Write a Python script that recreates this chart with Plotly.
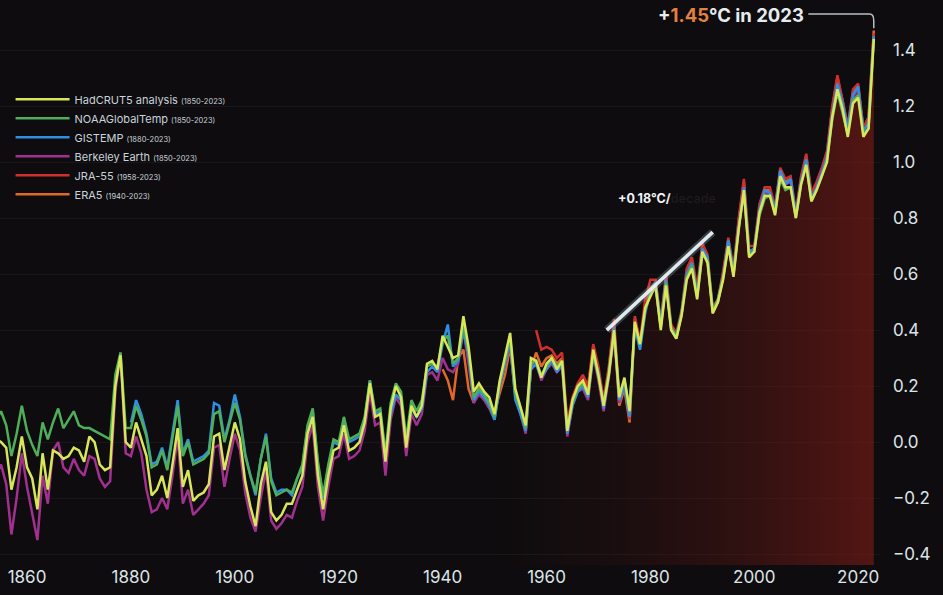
import plotly.graph_objects as go

# ---------------- data ----------------
years_hc = list(range(1850, 2024))
hadcrut5 = [
    -0.12, 0.07, 0.07, 0.03, 0.01, 0.00, -0.02, -0.17, -0.09, 0.02,
    -0.09, -0.13, -0.24, -0.04, -0.17, -0.03, -0.04, -0.06, -0.05, -0.02,
    -0.03, -0.07, 0.02, 0.00, -0.08, -0.10, -0.09, 0.20, 0.31, 0.00,
    -0.02, 0.07, 0.01, -0.05, -0.19, -0.17, -0.12, -0.20, -0.08, 0.05,
    -0.16, -0.10, -0.21, -0.19, -0.18, -0.15, 0.02, 0.03, -0.10, -0.01,
    0.07, 0.01, -0.14, -0.23, -0.30, -0.15, -0.07, -0.25, -0.28, -0.26,
    -0.22, -0.22, -0.17, -0.12, 0.03, 0.09, -0.12, -0.24, -0.12, -0.03,
    -0.02, 0.06, -0.03, -0.02, 0.00, 0.07, 0.21, 0.09, 0.10, -0.07,
    0.12, 0.20, 0.16, -0.02, 0.13, 0.09, 0.13, 0.28, 0.29, 0.26,
    0.38, 0.34, 0.30, 0.31, 0.45, 0.34, 0.18, 0.21, 0.18, 0.16,
    0.10, 0.22, 0.30, 0.39, 0.19, 0.12, 0.06, 0.30, 0.29, 0.23,
    0.28, 0.30, 0.26, 0.29, 0.04, 0.15, 0.20, 0.22, 0.17, 0.33,
    0.24, 0.13, 0.24, 0.40, 0.16, 0.23, 0.11, 0.43, 0.35, 0.48,
    0.52, 0.56, 0.40, 0.56, 0.40, 0.37, 0.45, 0.58, 0.62, 0.51,
    0.68, 0.64, 0.46, 0.50, 0.58, 0.70, 0.59, 0.76, 0.90, 0.66,
    0.68, 0.82, 0.88, 0.88, 0.81, 0.95, 0.91, 0.91, 0.80, 0.92,
    0.99, 0.86, 0.90, 0.95, 1.00, 1.16, 1.26, 1.19, 1.09, 1.21,
    1.23, 1.09, 1.12, 1.44,
]

years_noaa = list(range(1850, 2024))
noaa = [
    0.02, 0.14, 0.12, 0.10, 0.08, 0.11, 0.06, -0.05, 0.03, 0.13,
    0.04, -0.01, -0.05, 0.07, 0.01, 0.07, 0.12, 0.05, 0.08, 0.11,
    0.06, 0.05, 0.05, 0.04, 0.03, 0.02, 0.01, 0.24, 0.32, 0.05,
    0.05, 0.13, 0.08, 0.02, -0.09, -0.08, -0.03, -0.10, 0.02, 0.13,
    -0.05, 0.00, -0.08, -0.07, -0.06, -0.04, 0.10, 0.11, 0.00, 0.07,
    0.14, 0.08, -0.05, -0.12, -0.18, -0.06, 0.02, -0.14, -0.19, -0.18,
    -0.17, -0.18, -0.13, -0.08, 0.06, 0.12, -0.07, -0.19, -0.08, 0.01,
    0.00, 0.09, 0.01, 0.02, 0.03, 0.09, 0.22, 0.11, 0.12, -0.04,
    0.14, 0.21, 0.18, 0.01, 0.15, 0.11, 0.15, 0.27, 0.28, 0.27,
    0.36, 0.38, 0.28, 0.30, 0.42, 0.32, 0.16, 0.19, 0.17, 0.14,
    0.09, 0.21, 0.29, 0.37, 0.17, 0.12, 0.05, 0.28, 0.29, 0.24,
    0.27, 0.30, 0.27, 0.29, 0.05, 0.14, 0.19, 0.21, 0.17, 0.32,
    0.23, 0.14, 0.25, 0.39, 0.17, 0.22, 0.12, 0.42, 0.35, 0.47,
    0.53, 0.55, 0.41, 0.57, 0.41, 0.38, 0.46, 0.59, 0.63, 0.52,
    0.67, 0.65, 0.47, 0.51, 0.59, 0.70, 0.60, 0.77, 0.89, 0.67,
    0.68, 0.81, 0.87, 0.88, 0.82, 0.94, 0.90, 0.91, 0.80, 0.92,
    0.99, 0.86, 0.90, 0.95, 1.01, 1.15, 1.25, 1.18, 1.10, 1.22,
    1.24, 1.10, 1.12, 1.44,
]

years_gis = list(range(1880, 2024))
gistemp = [
    0.07, 0.15, 0.10, 0.03, -0.08, -0.07, -0.02, -0.09, 0.03, 0.15,
    -0.04, 0.01, -0.07, -0.06, -0.05, -0.03, 0.14, 0.13, 0.01, 0.08,
    0.17, 0.09, -0.04, -0.12, -0.19, -0.06, 0.03, -0.13, -0.18, -0.17,
    -0.17, -0.19, -0.13, -0.09, 0.05, 0.11, -0.08, -0.20, -0.09, 0.00,
    -0.01, 0.08, 0.00, 0.01, 0.02, 0.08, 0.22, 0.10, 0.11, -0.05,
    0.10, 0.17, 0.15, 0.00, 0.12, 0.09, 0.12, 0.25, 0.27, 0.25,
    0.35, 0.42, 0.27, 0.29, 0.40, 0.31, 0.15, 0.18, 0.16, 0.13,
    0.08, 0.20, 0.28, 0.36, 0.15, 0.10, 0.04, 0.26, 0.28, 0.23,
    0.26, 0.29, 0.25, 0.28, 0.03, 0.13, 0.18, 0.20, 0.16, 0.31,
    0.25, 0.12, 0.24, 0.41, 0.15, 0.20, 0.09, 0.41, 0.33, 0.46,
    0.54, 0.57, 0.42, 0.58, 0.40, 0.37, 0.46, 0.60, 0.64, 0.53,
    0.69, 0.66, 0.47, 0.50, 0.59, 0.72, 0.61, 0.77, 0.91, 0.68,
    0.69, 0.83, 0.90, 0.89, 0.83, 0.97, 0.92, 0.94, 0.81, 0.93,
    1.01, 0.87, 0.91, 0.96, 1.02, 1.17, 1.28, 1.21, 1.12, 1.24,
    1.27, 1.11, 1.14, 1.45,
]

years_be = list(range(1850, 2024))
berkeley = [
    -0.20, -0.05, -0.03, -0.08, -0.12, -0.08, -0.15, -0.33, -0.20, -0.04,
    -0.16, -0.25, -0.35, -0.12, -0.22, -0.03, 0.00, -0.09, -0.11, -0.06,
    -0.10, -0.12, -0.05, -0.06, -0.13, -0.16, -0.14, 0.18, 0.32, -0.04,
    -0.05, 0.02, -0.04, -0.17, -0.25, -0.24, -0.20, -0.24, -0.12, 0.02,
    -0.22, -0.17, -0.26, -0.24, -0.22, -0.19, -0.02, -0.01, -0.16, -0.06,
    0.03, -0.03, -0.18, -0.27, -0.32, -0.20, -0.10, -0.28, -0.31, -0.29,
    -0.26, -0.27, -0.21, -0.16, 0.00, 0.06, -0.16, -0.28, -0.16, -0.06,
    -0.05, 0.03, -0.06, -0.05, -0.03, 0.04, 0.18, 0.06, 0.07, -0.12,
    0.08, 0.16, 0.13, -0.05, 0.10, 0.06, 0.10, 0.24, 0.25, 0.22,
    0.30, 0.26, 0.25, 0.28, 0.40, 0.28, 0.14, 0.17, 0.15, 0.12,
    0.08, 0.20, 0.27, 0.35, 0.16, 0.10, 0.03, 0.26, 0.28, 0.22,
    0.26, 0.28, 0.25, 0.27, 0.02, 0.13, 0.18, 0.19, 0.15, 0.31,
    0.22, 0.11, 0.23, 0.38, 0.14, 0.21, 0.10, 0.42, 0.34, 0.47,
    0.53, 0.56, 0.41, 0.58, 0.41, 0.38, 0.46, 0.60, 0.63, 0.52,
    0.68, 0.65, 0.47, 0.51, 0.59, 0.71, 0.61, 0.78, 0.91, 0.68,
    0.69, 0.83, 0.89, 0.89, 0.82, 0.96, 0.92, 0.93, 0.81, 0.93,
    1.00, 0.87, 0.91, 0.97, 1.02, 1.17, 1.27, 1.20, 1.11, 1.23,
    1.26, 1.11, 1.14, 1.45,
]

years_jra = list(range(1958, 2024))
jra55 = [
    0.40, 0.33,
    0.34, 0.33, 0.30, 0.32, 0.07, 0.16, 0.21, 0.24, 0.20, 0.35,
    0.27, 0.15, 0.27, 0.44, 0.17, 0.21, 0.08, 0.45, 0.36, 0.51,
    0.58, 0.58, 0.43, 0.60, 0.42, 0.39, 0.47, 0.62, 0.66, 0.55,
    0.71, 0.67, 0.48, 0.51, 0.61, 0.73, 0.62, 0.80, 0.94, 0.70,
    0.70, 0.85, 0.91, 0.91, 0.84, 0.98, 0.94, 0.95, 0.82, 0.95,
    1.03, 0.89, 0.93, 0.98, 1.04, 1.20, 1.31, 1.22, 1.13, 1.26,
    1.28, 1.12, 1.16, 1.46,
]

years_era = list(range(1940, 2024))
era5 = [
    0.26, 0.22, 0.15, 0.30, 0.33, 0.19, 0.14, 0.20, 0.16, 0.13,
    0.11, 0.18, 0.24, 0.34, 0.17, 0.11, 0.04, 0.26, 0.32, 0.27,
    0.30, 0.31, 0.28, 0.30, 0.06, 0.14, 0.19, 0.22, 0.19, 0.34,
    0.25, 0.14, 0.26, 0.42, 0.13, 0.19, 0.07, 0.44, 0.34, 0.49,
    0.55, 0.57, 0.42, 0.59, 0.41, 0.37, 0.46, 0.61, 0.65, 0.53,
    0.70, 0.66, 0.46, 0.50, 0.60, 0.72, 0.60, 0.79, 0.93, 0.68,
    0.69, 0.84, 0.90, 0.90, 0.83, 0.97, 0.93, 0.94, 0.81, 0.94,
    1.02, 0.88, 0.92, 0.97, 1.03, 1.19, 1.30, 1.22, 1.12, 1.25,
    1.27, 1.12, 1.16, 1.47,
]

# trend segment (+0.18 °C/decade marker)
trend_x = [1971.6, 1992.0]
trend_y = [0.40, 0.75]

x_ticks = [1860, 1880, 1900, 1920, 1940, 1960, 1980, 2000, 2020]
y_ticks = [-0.4, -0.2, 0.0, 0.2, 0.4, 0.6, 0.8, 1.0, 1.2, 1.4]

# ---------------- styling ----------------
BG = "#0e0c0e"
TXT = "#dde4e8"
FONT = "Inter"

series = [
    ("HadCRUT5 analysis", "(1850-2023)", years_hc, hadcrut5, "#d8e65a"),
    ("NOAAGlobalTemp", "(1850-2023)", years_noaa, noaa, "#4fae5a"),
    ("GISTEMP", "(1880-2023)", years_gis, gistemp, "#2f8fe0"),
    ("Berkeley Earth", "(1850-2023)", years_be, berkeley, "#a2308f"),
    ("JRA-55", "(1958-2023)", years_jra, jra55, "#d0302c"),
    ("ERA5", "(1940-2023)", years_era, era5, "#e0682a"),
]

Y0, Y1 = -0.439, 1.579
X0, X1 = 1854.8, 2024.2

fig = go.Figure()

# warming fill under the curve (recent decades)
fill_start = years_hc.index(1950)
fx = years_hc[fill_start:]
fy = hadcrut5[fill_start:]
fig.add_trace(go.Scatter(x=fx, y=[Y0] * len(fx), mode="lines",
                         line=dict(width=0), hoverinfo="skip", showlegend=False))
fig.add_trace(go.Scatter(
    x=fx, y=fy, mode="lines", line=dict(width=0), fill="tonexty",
    fillgradient=dict(type="horizontal", colorscale=[
        [0.0, "rgba(120,25,20,0.0)"],
        [0.3, "rgba(120,25,20,0.10)"],
        [0.65, "rgba(125,27,22,0.30)"],
        [1.0, "rgba(140,30,25,0.55)"]]),
    hoverinfo="skip", showlegend=False))

# lines: draw in reverse so HadCRUT5 ends on top
for name, span, xs, ys, col in reversed(series):
    fig.add_trace(go.Scatter(
        x=xs, y=ys, mode="lines",
        name=f"{name} <span style='font-size:7.5px'>{span}</span>",
        line=dict(color=col, width=2.5, shape="linear"),
    ))

# trend marker
fig.add_trace(go.Scatter(x=trend_x, y=trend_y, mode="lines",
                         line=dict(color="rgba(150,170,180,0.3)", width=8),
                         hoverinfo="skip", showlegend=False))
fig.add_trace(go.Scatter(x=trend_x, y=trend_y, mode="lines",
                         line=dict(color="rgba(232,243,247,0.95)", width=3.5),
                         hoverinfo="skip", showlegend=False))

fig.add_annotation(
    x=1973.4, y=0.87, xref="x", yref="y", xanchor="left", yanchor="middle",
    text="<b>+0.18°C/<span style='color:rgba(255,255,255,0.06)'>decade</span></b>",
    showarrow=False, font=dict(family=FONT, size=12.5, color="#f2f5f7"))

# 2023 callout
fig.add_annotation(
    x=2009.9, y=1.527, xref="x", yref="y", xanchor="right", yanchor="middle",
    text="<b>+<span style='color:#e2823f'>1.45</span>°C in 2023</b>",
    showarrow=False, font=dict(family=FONT, size=18.5, color="#e6ecef"))
fig.add_shape(type="path", xref="x", yref="y",
              path="M 2010.4 1.529 L 2022.2 1.529 Q 2023.0 1.529 2023.0 1.505 L 2023.0 1.478",
              line=dict(color="#b8bec2", width=1.5))

fig.update_layout(
    width=943, height=595,
    paper_bgcolor=BG, plot_bgcolor=BG,
    margin=dict(l=0, r=63, t=0, b=30),
    font=dict(family=FONT, color=TXT),
    showlegend=True,
    legend=dict(
        x=0.012, y=0.85, xanchor="left", yanchor="top",
        bgcolor="rgba(0,0,0,0)", traceorder="reversed",
        font=dict(family=FONT, size=11, color="#c9d3da"),
        itemwidth=54, tracegroupgap=0,
    ),
    xaxis=dict(range=[X0, X1], tickvals=x_ticks, showgrid=False, zeroline=False,
               showline=False, ticks="", tickfont=dict(family=FONT, size=17, color=TXT)),
    yaxis=dict(range=[Y0, Y1], tickvals=y_ticks, tickformat=".1f", side="right",
               showgrid=True, gridcolor="rgba(255,255,255,0.045)", gridwidth=1,
               zeroline=False, showline=False, ticks="", ticklabelstandoff=12,
               tickfont=dict(family=FONT, size=17, color=TXT)),
)

fig.write_html(
    "out.html",
    config={"displayModeBar": False},
    post_script="document.body.style.margin='0';document.body.style.background='%s';" % BG,
)
